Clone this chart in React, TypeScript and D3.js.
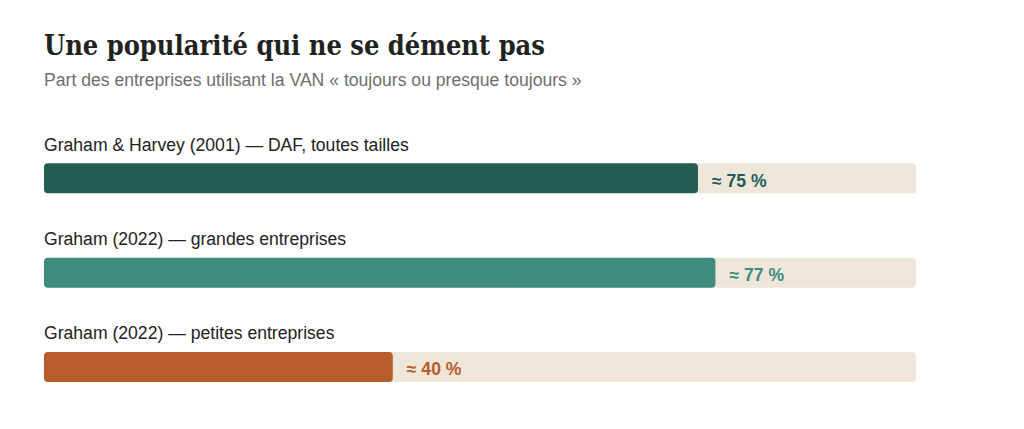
import React from "react";
import * as d3 from "d3";

const categories = [
  "Graham & Harvey (2001) — DAF, toutes tailles",
  "Graham (2022) — grandes entreprises",
  "Graham (2022) — petites entreprises",
];
const values = [75, 77, 40];
const valueLabels = ["≈ 75 %", "≈ 77 %", "≈ 40 %"];
const colors = ["#235e55", "#3e8c7e", "#b85c2b"];

const W = 1024;
const H = 429;

export default function App() {
  const x = d3.scaleLinear().domain([0, 100]).range([44, 916]);
  const y = d3
    .scaleBand<number>()
    .domain(d3.range(categories.length))
    .range([116, 399])
    .paddingInner(0)
    .paddingOuter(0);
  const barH = 30;
  const sans = "'Liberation Sans', Arial, sans-serif";
  const fs = 17.6;
  return (
    <svg
      width={W}
      height={H}
      style={{ position: "absolute", left: 0, top: 0, background: "#fff" }}
    >
      <text
        x={44}
        y={55}
        fontFamily="'DejaVu Serif', serif"
        fontWeight={700}
        fontSize={27}
        fill="#1f2421"
        textLength={501}
        lengthAdjust="spacingAndGlyphs"
      >
        Une popularité qui ne se dément pas
      </text>
      <text x={44} y={85.5} fontFamily={sans} fontSize={fs} fill="#6e6e6e">
        Part des entreprises utilisant la VAN « toujours ou presque toujours »
      </text>
      {categories.map((c, i) => {
        const top = (y(i) as number) + 47.3;
        return (
          <g key={c}>
            <text x={44} y={top - 12.6} fontFamily={sans} fontSize={fs} fill="#222">
              {c}
            </text>
            <rect x={x(0)} y={top} width={x(100) - x(0)} height={barH} rx={4} fill="#ede6d9" />
            <rect x={x(0)} y={top} width={x(values[i]) - x(0)} height={barH} rx={4} fill={colors[i]} />
            <text
              x={x(values[i]) + 14}
              y={top + 23.4}
              fontFamily={sans}
              fontWeight={700}
              fontSize={fs}
              fill={colors[i]}
            >
              {valueLabels[i]}
            </text>
          </g>
        );
      })}
    </svg>
  );
}
